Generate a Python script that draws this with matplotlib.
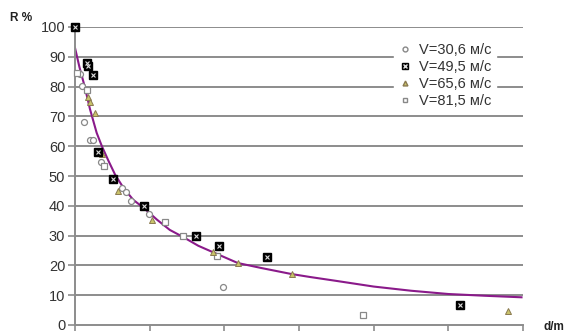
import matplotlib.pyplot as plt
from matplotlib.lines import Line2D

plt.rcParams['font.family'] = ['Liberation Sans', 'DejaVu Sans']

# x in axis tick units (0..6), y in %
x_v30 = [0.067, 0.09, 0.12, 0.20, 0.24, 0.35, 0.63, 0.68, 0.75, 0.99, 1.98]
y_v30 = [84.2, 80.2, 68.1, 62.1, 62.1, 54.7, 46.0, 44.7, 41.6, 37.2, 12.8]

x_v49 = [0.0, 0.16, 0.18, 0.24, 0.31, 0.51, 0.92, 1.62, 1.93, 2.57, 5.16]
y_v49 = [100, 88.0, 87.0, 83.9, 58.1, 49.0, 40.0, 30.0, 26.5, 22.8, 6.7]

x_v65 = [0.17, 0.20, 0.27, 0.36, 0.58, 1.03, 1.85, 2.18, 2.90, 5.80]
y_v65 = [76.5, 74.8, 71.1, 57.4, 45.0, 35.2, 24.5, 20.8, 17.1, 4.7]

x_v81 = [0.03, 0.16, 0.39, 1.20, 1.45, 1.90, 3.86]
y_v81 = [84.6, 78.9, 53.4, 34.6, 29.9, 23.2, 3.4]

# trend line
x_trend = [0.0, 0.06, 0.13, 0.2, 0.29, 0.36, 0.45, 0.54, 0.65, 0.78, 0.92, 1.1, 1.27,
           1.45, 1.65, 1.85, 2.18, 2.5, 2.9, 3.15, 3.5, 4.0, 4.5, 5.0, 5.5, 5.98]
y_trend = [93, 86.5, 80, 72.5, 64.5, 60, 55, 50.3, 46, 42, 39.3, 35.3, 31.9,
           29.5, 26.6, 24.4, 20.8, 19.1, 17.1, 16.1, 14.8, 12.9, 11.5, 10.4, 9.8, 9.3]

labels = ['V=30,6 м/с', 'V=49,5 м/с', 'V=65,6 м/с', 'V=81,5 м/с']

fig = plt.figure(figsize=(5.69, 3.36), dpi=100)
ax = fig.add_axes([75 / 569, 1 - 325 / 336, 448 / 569, 298 / 336])

grid_c = '#8c8c8c'
for v in range(10, 101, 10):
    ax.axhline(v, color=grid_c, lw=1.4, zorder=1)

ax.plot(x_trend, y_trend, color='#8a1a8a', lw=1.5, zorder=2)

ax.plot(x_v30, y_v30, 'o', ms=4.3, mfc='white', mec='#888888', mew=0.9, zorder=3, clip_on=False)
ax.plot(x_v81, y_v81, 's', ms=4.3, mfc='white', mec='#888888', mew=0.9, zorder=3, clip_on=False)
ax.plot(x_v65, y_v65, '^', ms=4.5, mfc='#c9c36a', mec='#8a7a50', mew=0.7, zorder=4, clip_on=False)
ax.plot(x_v49, y_v49, 's', ms=5.6, mfc='black', mec='black', zorder=5, clip_on=False)
ax.plot(x_v49, y_v49, 'x', ms=2.8, mec='#dddddd', mew=0.8, zorder=6, clip_on=False)

ax.set_xlim(0, 6)
ax.set_ylim(0, 100)
ax.set_xticks(range(0, 7))
ax.set_xticklabels([])
ax.set_yticks(range(0, 101, 10))
ax.tick_params(axis='y', labelsize=10.5, labelcolor='#333333', length=5, color=grid_c, width=1.2, pad=2)
ax.tick_params(axis='x', length=4, color=grid_c, width=1.2)
for s in ['top', 'right']:
    ax.spines[s].set_visible(False)
for s in ['left', 'bottom']:
    ax.spines[s].set_color(grid_c)
    ax.spines[s].set_linewidth(1.4)

h1 = Line2D([], [], ls='none', marker='o', ms=3.5, mfc='white', mec='#888888')
h2 = (Line2D([], [], ls='none', marker='s', ms=5, mfc='black', mec='black'),
      Line2D([], [], ls='none', marker='x', ms=2.5, mec='#dddddd'))
h3 = Line2D([], [], ls='none', marker='^', ms=3.5, mfc='#c9c36a', mec='#8a7a50')
h4 = Line2D([], [], ls='none', marker='s', ms=3.5, mfc='white', mec='#888888')
leg = ax.legend([h1, h2, h3, h4], labels, loc='upper right', bbox_to_anchor=(0.94, 0.96),
                frameon=True, framealpha=1, edgecolor='white', fontsize=10.5,
                handlelength=0.8, handletextpad=0.6, labelspacing=0.2, borderpad=0.3,
                borderaxespad=0)
for t in leg.get_texts():
    t.set_color('#333333')

fig.text(10 / 569, 1 - 18 / 336, 'R %', fontsize=8.5, fontweight='bold', color='#222222',
         ha='left', va='center')
fig.text(544 / 569, 1 - 327 / 336, 'd/m', fontsize=8.5, fontweight='bold', color='#222222',
         ha='left', va='center')

fig.savefig('out.png', dpi=100)
